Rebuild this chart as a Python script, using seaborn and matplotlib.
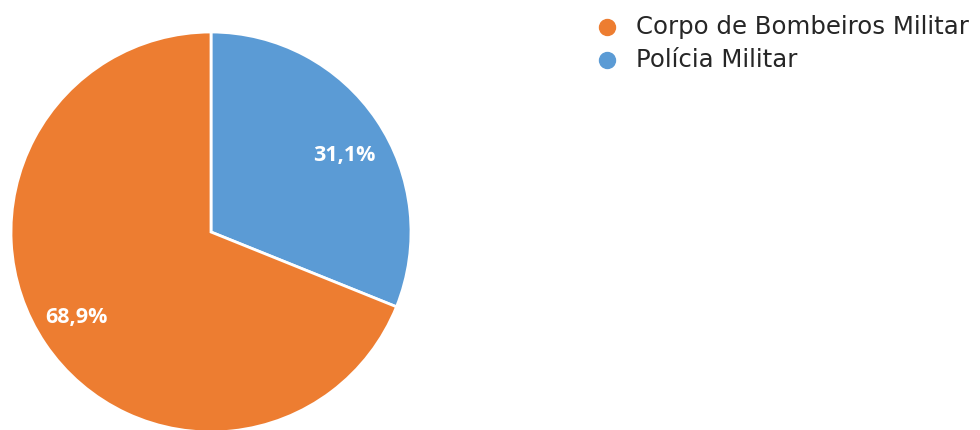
import matplotlib
matplotlib.use("Agg")
import matplotlib.pyplot as plt
import seaborn as sns

categories = ["Polícia Militar", "Corpo de Bombeiros Militar"]
values = [31.1, 68.9]
labels = ["31,1%", "68,9%"]
legend_order = ["Corpo de Bombeiros Militar", "Polícia Militar"]

sns.set_theme(style="white")
plt.rcParams['font.family'] = ['Open Sans', 'DejaVu Sans']
colors = {"Polícia Militar": "#5B9BD5", "Corpo de Bombeiros Militar": "#ED7D31"}

fig = plt.figure(figsize=(9.8, 4.3), dpi=100)
ax = fig.add_axes([0, 0, 1, 1])

wedges, texts = ax.pie(values, colors=[colors[c] for c in categories],
                       startangle=90, counterclock=False,
                       center=(211, 198), radius=200,
                       wedgeprops=dict(edgecolor='white', linewidth=2),
                       labels=labels, labeldistance=0.7,
                       textprops=dict(color='white', fontsize=15.5, fontweight='bold'))
ax.set_xlim(0, 980)
ax.set_ylim(0, 430)
ax.set_aspect('equal')
ax.axis('off')
texts[0].set_position((344, 430 - 155))
texts[1].set_position((76, 430 - 318))
for t in texts:
    t.set_ha('center'); t.set_va('center')

for i, c in enumerate(legend_order):
    y = 430 - (27 + 33 * i)
    ax.plot([607], [y], marker='o', linestyle='', markersize=11.5,
            markerfacecolor=colors[c], markeredgecolor=colors[c], clip_on=False)
    ax.text(636, y, c, ha='left', va='center', fontsize=17.6, color='#262626',
            family=['DejaVu Sans'])

fig.savefig("out.png", dpi=100, facecolor='white')
